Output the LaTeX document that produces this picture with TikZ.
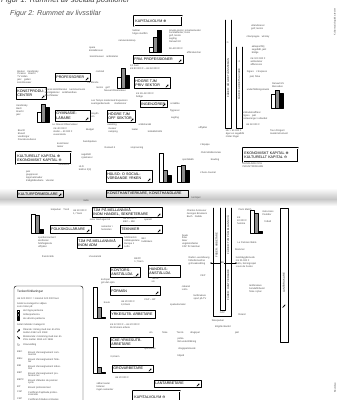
\documentclass[tikz,border=0pt]{standalone}
\usepackage{fontspec}
\setmainfont{Liberation Sans}
\newfontfamily\dejavu{DejaVu Sans}
\usetikzlibrary{arrows.meta}

\newcommand\boxfont{\fontsize{3.1}{3.5}\selectfont}
\newcommand\litenfont{\fontsize{2.1}{2.5}\selectfont}
\newcommand\kplus{{\dejavu ⊕}}
\newcommand\kminus{{\dejavu ⊖}}

\tikzset{
  yrke/.code 2 args={\pgfmathsetlengthmacro\boxbredd{#1*0.3mm-2pt}%
    \pgfmathsetlengthmacro\boxhojd{#2*0.3mm}%
    \edef\yrketmp{\noexpand\tikzset{text width=\boxbredd,minimum height=\boxhojd}}\yrketmp
    \tikzset{draw,line width=0.35pt,anchor=north west,inner sep=1pt,font=\boxfont,align=left}},
  kapital/.style={double,double distance=0.55pt,line width=0.45pt},
  liten/.style={font=\litenfont,text=black!70,inner sep=0pt,align=left},
  stapel/.style={draw,line width=0.3pt},
  kolumn/.style={draw,line width=0.35pt},
  kolumntext/.style={font=\fontsize{2.3}{2.6}\selectfont,rotate=90,inner sep=0pt,text=black!80},
  ikonpil/.style={line width=0.6pt,-{Stealth[length=1.3pt,width=1.6pt]}}
}

% three bars: x, bottom, white, grey, black
\newcommand\staplar[5]{%
  \draw[stapel,fill=white] (#1,#2) rectangle ++(4,-#3);
  \draw[stapel,fill=black!45] (#1+4,#2) rectangle ++(4,-#4);
  \draw[stapel,fill=black] (#1+8,#2) rectangle ++(4,-#5);}
\newcommand\ikon[1]{\draw[ikonpil] ([shift={(-4.6,-1.2)}]#1.south east) -- ++(2.6,-2.6);}

\begin{document}
\begin{tikzpicture}[x=0.3mm,y=-0.3mm,line cap=round,line join=round,>={Stealth[length=1.5pt]}]
\useasboundingbox (0,0) rectangle (337,400);
\fill[white] (0,0) rectangle (337,400);
\clip (0,0) rectangle (337,400);

% fold between the pages
\shade[top color=white,bottom color=black!22] (0,188) rectangle (337,199);
\shade[top color=black!22,bottom color=white] (0,199) rectangle (337,206);

\node[anchor=base west,inner sep=0pt,font=\fontsize{6.5}{7}\selectfont\itshape,text=black!75] (fig1) at (1,2.5) {Figur 1: Rummet av sociala positioner};
\node[anchor=base west,inner sep=0pt,font=\fontsize{6.1}{7}\selectfont\itshape,text=black!65] (fig2) at (10,15.5) {Figur 2: Rummet av livsstilar};

\node[rotate=90,liten] (marg1) at (335,22) {Kultursociologiska texter};
\node[rotate=90,liten] (marg2) at (335,388) {Bourdieu};

%% upper page
\begin{scope}
\node[yrke={48}{10},kapital] (kapplus) at (134,16) {KAPITALVOLYM \kplus};
\node[yrke={50}{8}] (fria) at (133,55) {FRIA PROFESSIONER};
\node[yrke={35}{8}] (prof) at (55,73) {PROFESSORER};
\node[yrke={30}{12}] (konst) at (16,87) {KONSTPRODU-\\CENTER};
\node[yrke={36}{11}] (privtjm) at (134,77) {HÖGRE TJM\\PRIV SEKTOR};
\node[yrke={27}{7}] (ing) at (140,100) {INGENJÖRER};
\node[yrke={35}{11}] (gymn) at (55,110) {GYMNASIE-\\LÄRARE};
\node[yrke={28}{12}] (offtjm) at (107,110) {HÖGRE TJM\\OFF SEKTOR};
\node[yrke={55}{12},kapital] (kultplus) at (16,152) {KULTURELLT KAPITAL \kplus\\EKONOMISKT KAPITAL \kminus};
\node[yrke={55}{14},kapital] (ekoplus) at (243,148) {EKONOMISKT KAPITAL \kplus\\KULTURELLT KAPITAL \kminus};
\node[yrke={46}{12}] (halso) at (106,170) {HÄLSO- O SOCIAL-\\VÅRDANDE YRKEN};
\node[yrke={46}{7}] (kultform) at (17,190) {KULTURFÖRMEDLARE};
\node[yrke={82}{7}] (hantv) at (106,190) {KONSTHANTVERKARE, KONSTHANDLARE};

\staplar{149}{52}{5}{15}{22}
\staplar{117}{88}{11}{20}{13}
\staplar{37}{122}{10}{18}{15}
\staplar{159}{182}{29}{12}{7}
\staplar{177}{182}{16}{17}{12}
\staplar{271}{108}{14}{18}{15}

\draw[kolumn] (225,20) -- (225,128) -- (231,128) -- (231,20);
\draw[kolumn] (236,47) -- (236,128) -- (242,128) -- (242,47);
\node[kolumntext] (kolA) at (228,78) {FÄDER: HÖGRE TJÄNSTEMÄN};
\node[kolumntext] (kolB) at (239,84) {FÄDER: ARBETSGIVARE};
\node[liten,font=\dejavu\fontsize{2.6}{3}\selectfont] (pilA) at (228,43) {←};
\node[liten,font=\dejavu\fontsize{2.6}{3}\selectfont] (pilB) at (239,62) {→};
\end{scope}

\foreach \pos/\txt [count=\i] in {
  {140,32}/{Seltzer\\högre skolfilm}, {127,41}/{naturvetenskap},
  {96,49}/{opera\\kristallkronor}, {104,57}/{konstmuseer\quad antikviteter},
  {185,36}/{privata skolor, jetsetsemester\\cocktailfester, resor\\golf, tennis\\segling\\Renault 30},
  {176,49}/{60--80 000 F}, {194,53}/{affärsluncher},
  {145,67}/{3,1 barn\\ink 80 000 F -- ink 60 000 F}, {100,72}/{cocktail},
  {93,83}/{Le Monde}, {103,88}/{tennis\quad golf}, {115,91}/{Nouvel Observateur},
  {65,93}/{Fransk skönlitteratur\quad kammarmusik\\konstgallerier\quad antikhandlare\\Brechtteater},
  {28,77}/{Boulez\quad Kandinsky\\Picasso\quad Brecht\\TV sällan\\jazz\quad galleri\\konstmuseer},
  {145,95}/{ink 40--60 000 F\\bridge}, {258,27}/{utlandsresor\\golf, tennis},
  {258,37}/{champagne\quad whisky}, {259,50}/{aktieportfölj\\segelbåt, jakt\\bridge},
  {258,62}/{ink 100 000 F\\antikviteter\\affärsresor}, {257,72}/{Figaro\quad L'Express},
  {255,77}/{jakt, fiske}, {278,85}/{Renault 25\\Mercedes}, {258,90}/{underhållningsmusik},
  {255,116}/{antikvitetsaffärer\\Figaro\quad jakt\\restauranger i utlandet},
  {253,125}/{ink 60 000 F}, {235,134}/{ink > 60 000 F\\äger en segelbåt\\röstar höger},
  {279,132}/{Tour d'Argent\\musikinstrument}, {203,128}/{utflykter},
  {175,104}/{scrabble}, {175,111}/{flygresor}, {175,118}/{segling},
  {103,102}/{Les Temps modernes\\avantgardemusik}, {121,102}/{L'Expansion\\studieresor},
  {22,110}/{Kandinsky\\Bach\\Brecht\\jazz}, {95,115}/{Haydn\\vin},
  {65,125}/{Le Nouvel Observateur}, {112,125}/{vandring}, {145,125}/{antikhandel},
  {27,135}/{Brecht\\Eluard\\vandringar\\Franska kulturen},
  {63,132}/{ink 40 000 F\\skidor -- 40 000 F\\vuxenskola}, {90,130}/{Budget},
  {113,131}/{museer\\camping}, {135,130}/{teater}, {155,132}/{kollektivtrafik},
  {63,145}/{konstnärer\\teater}, {90,142}/{bandspelare}, {110,148}/{Renault 4},
  {137,148}/{vinprovning}, {87,156}/{segelbåt\\cykelresor}, {64,165}/{zoobesök},
  {85,168}/{Hi-Fi\\telefon 2(3)},
  {40,176}/{jazz\\gruppresor\\loppmarknader\\trädgårdsarbete\quad vänster},
  {205,145}/{L'Equipe}, {211,153}/{Club Méditerranée}, {188,160}/{sportklubb},
  {215,160}/{bowling}, {208,173}/{L'Auto-Journal},
  {253,165}/{HANDLARE OCH\\INDUSTRIIDKARE}, {196,198}/{kortspel}, {86,201}/{radio}}
  {\node[liten] (t\i) at (\pos) {\txt};}

%% lower page
\begin{scope}
\node[yrke={70}{10}] (mellhandel) at (92,207) {TJM PÅ MELLANNIVÅ\\INOM HANDEL, SEKRETERARE};
\node[yrke={41}{8}] (folk) at (50,225) {FOLKSKOLLÄRARE};
\node[yrke={42}{8}] (tekn) at (120,225) {TEKNIKER};
\node[yrke={45}{11}] (melladm) at (77,237) {TJM PÅ MELLANNIVÅ\\INOM ADM};
\node[yrke={30}{10}] (kontor) at (110,267) {KONTORS-\\ANSTÄLLDA};
\node[yrke={32}{12}] (handels) at (148,265) {HANDELS-\\ANSTÄLLDA};
\node[yrke={50}{9}] (forman) at (110,286) {FÖRMÄN};
\node[yrke={45}{8}] (yrkesarb) at (110,310) {YRKESUTB. ARBETARE};
\node[yrke={43}{10}] (ickearb) at (110,337) {ICKE-YRKESUTB.\\ARBETARE};
\node[yrke={41}{7}] (grov) at (112,365) {GROVARBETARE};
\node[yrke={47}{7}] (lant) at (154,380) {LANTARBETARE};
\node[yrke={47}{12},kapital] (kapminus) at (133,391) {KAPITALVOLYM \kminus};

\staplar{31}{233}{19}{18}{4}
\staplar{250}{233}{23}{20}{2}
\staplar{93}{318}{31}{11}{1}
\staplar{93}{373}{36}{6}{1}

\draw[kolumn] (213,208) -- (213,316) -- (231,316) -- (231,208);
\draw[kolumn] (220,208) -- (220,310) -- (225,310) -- (225,208);
\node[kolumntext] (kolC) at (216.5,245) {FÄDER: ARBETARE};
\node[kolumntext] (kolD) at (228,235) {FÄDER: TJM PÅ MELLANNIVÅ};
\node[kolumntext] (kolE) at (228,285) {FÄDER: HANTVERKARE};
\coordinate (beV) at (210,263);
\coordinate (beH) at (237,263);
\draw[<->,line width=0.3pt] (beV) -- (beH);
\node[liten,fill=white,inner sep=0.3pt] (be) at (222.5,263) {BE};
\draw[kolumn] (280,208) rectangle (288,342);
\node[kolumntext] (kolF) at (284,283) {LANTBRUKARE};
\node[inner sep=0pt,minimum size=5pt] (lantikon) at (284,306) {};
\draw[ikonpil] ([shift={(-1.3,1.3)}]lantikon.center) -- ++(2.6,-2.6);

% legend
\draw[rounded corners=2pt,line width=0.35pt] (14,286) rectangle (83,406);
\node[liten,anchor=west,font=\fontsize{2.7}{3}\selectfont,text=black!85] (lg0) at (17,292) {Teckenförklaringar};
\node[liten,anchor=west] (lg1) at (17,299) {ink 120 000 F = inkomst 120 000 franc};
\node[liten,anchor=west] (lg2) at (17,305.5) {Andel av kategorins väljare\\som röstar på:};
\draw[stapel,fill=white] (17,310) rectangle ++(2.6,2.6);
\draw[stapel,fill=black!45] (17,313.6) rectangle ++(2.6,2.6);
\draw[stapel,fill=black] (17,317.2) rectangle ++(2.6,2.6);
\node[liten,anchor=west] (lg3) at (23,311.3) {de högra partierna};
\node[liten,anchor=west] (lg4) at (23,314.9) {mittenpartierna};
\node[liten,anchor=west] (lg5) at (23,318.5) {de vänstra partierna};
\node[liten,anchor=west] (lg6) at (17,325) {Antal individer i kategorin:};
\draw[ikonpil] (17.3,332) -- ++(2.6,-2.6);
\node[liten,anchor=west] (lg7) at (23,331) {Ökande: ökning med mer än 25\%\\mellan 1962 och 1968};
\draw[ikonpil] (17.3,336.5) -- ++(2.6,2.6);
\node[liten,anchor=west] (lg8) at (23,338.5) {Minskande: minskning med mer än\\25\% mellan 1962 och 1968};
\node[liten,anchor=west,font=\dejavu\fontsize{3}{3}\selectfont] (lg9) at (16.8,345) {↻};
\node[liten,anchor=west] (lg10) at (23,345) {Omvandling};
\foreach \y/\fork/\namn [count=\j] in {
  351/BEC/{Brevet d'enseignement com-\\mercial}, 358/BEH/{Brevet d'enseignement hôte-\\lier},
  365/BEI/{Brevet d'enseignement indus-\\triel}, 372/BEP/{Brevet d'enseignement pro-\\fessionnel},
  379/BEPC/{Brevet d'études du premier\\cycle}, 386/BP/{Brevet professionnel},
  391/CAP/{Certificat d'aptitude profes-\\sionnelle}, 398/CEP/{Certificat d'études primaires}}
  {\node[liten,anchor=north west] (fk\j) at (17,\y) {\fork};
   \node[liten,anchor=north west] (fn\j) at (28,\y) {\namn};}
\end{scope}

\foreach \n in {fria,prof,konst,privtjm,ing,gymn,offtjm,halso,kultform,mellhandel,folk,tekn,melladm,kontor,forman,grov,lant}
  {\ikon{\n}}

\foreach \pos/\txt [count=\i] in {
  {60,210}/{lekparker\quad Tivoli}, {80,212}/{ink 40 000 F\\1,7 barn},
  {100,220}/{resor med egen bil}, {107,228}/{semester i\\hemorten},
  {130,220}/{ink 40 000 F\\BEC -- BEI}, {148,220}/{operett},
  {47,242}/{sportkonsument\\skolfester\\folkhögskola\\utflykter},
  {132,242}/{tvättmaskin\\sällskapsdans\\Europe 1\\Lotto}, {147,240}/{BEI\\kvällskurs},
  {48,257}/{franskt kök}, {95,257}/{L'Humanité}, {139,260}/{BEPC\\1,7 barn},
  {108,281}/{kortspel\\gör-det-själv}, {137,278}/{Ricard}, {155,280}/{Tiercé\\vin},
  {197,214}/{Charles Aznavour\\Georges Brassens\\Bach\quad Dalida},
  {191,241}/{boule\\fiske\\läser\\ungdomsfester\\CAP för tekniker},
  {199,261}/{Radio Luxembourg\\fotbollsmatcher\\grönsaksodling}, {203,276}/{CEP},
  {186,288}/{cabaret\\Lotto}, {200,297}/{lantbrukare\\sport på TV},
  {245,210}/{Paris Match}, {268,213}/{motocross\\Poulidor}, {242,221}/{ink\\40 000 F\\hemma},
  {268,222}/{fotboll}, {247,243}/{Le Parisien libéré}, {240,250}/{blommor},
  {246,262}/{landsbygdsmusik\\ink 25 000 F\\Lotto, tärningsspel\\Louis de Funès},
  {257,289}/{lantbrukare\\bondeförbund\\fiske i sjöar}, {150,300}/{CAP -- BP},
  {178,305}/{spelautomater}, {107,303}/{boule}, {128,303}/{ink 20 000 F\\3,8 barn},
  {125,326}/{ink 12 000 F -- ink 20 000 F\\65 timmars arbete},
  {151,333}/{vin}, {165,333}/{fiske}, {180,333}/{Tiercé}, {195,333}/{dragspel},
  {187,340}/{polka\\lätt underhållning}, {187,349}/{dragspelsmusik}, {181,356}/{biljard},
  {150,349}/{sportsman}, {115,357}/{3,6 barn}, {122,378}/{ink 20 000 F},
  {105,387}/{sällan teater\\lotterier\\ingen semester}, {222.5,313}/{CAP},
  {218,321}/{fiskeparker}, {223,327}/{Brigitte Bardot}, {242,315}/{Ricard}, {237,333}/{jakt}}
  {\node[liten] (u\i) at (\pos) {\txt};}

\end{tikzpicture}
\end{document}
